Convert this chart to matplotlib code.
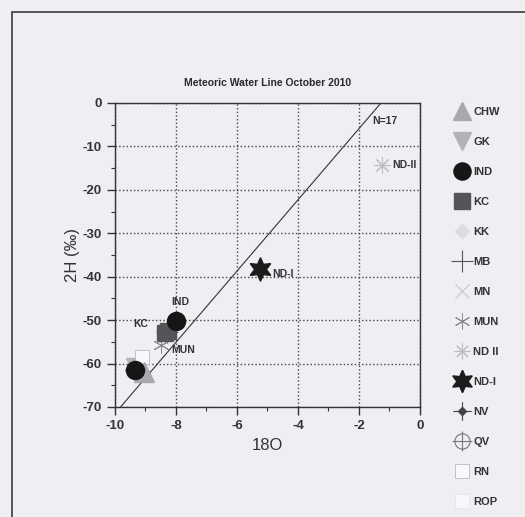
# Meteoric water line, October 2010
import numpy as np
import matplotlib
matplotlib.use('Agg')
import matplotlib.pyplot as plt
from matplotlib.path import Path
from matplotlib.patches import Rectangle

plt.rcParams['font.family'] = ['Liberation Sans', 'DejaVu Sans']
plt.rcParams['axes.unicode_minus'] = False

# Data
sites = ['CHW', 'GK', 'IND', 'KC', 'KK', 'MB', 'MN', 'MUN',
         'ND II', 'ND-I', 'NV', 'QV', 'RN', 'ROP']
d18O = {
    'CHW': [-9.05], 'GK': [-9.3], 'IND': [-8.0, -9.35], 'KC': [-8.25, -8.35],
    'KK': [-8.3], 'MB': [-8.3], 'MN': [-8.3], 'MUN': [-8.5],
    'ND II': [-1.25], 'ND-I': [-5.25], 'NV': [-9.35], 'QV': [-9.35],
    'RN': [-9.1], 'ROP': [-9.35],
}
d2H = {
    'CHW': [-62.0], 'GK': [-61.0], 'IND': [-50.2, -61.5], 'KC': [-52.5, -53.0],
    'KK': [-53.0], 'MB': [-52.8], 'MN': [-52.6], 'MUN': [-55.8],
    'ND II': [-14.3], 'ND-I': [-38.2], 'NV': [-61.5], 'QV': [-61.5],
    'RN': [-58.5], 'ROP': [-61.5],
}
mwl_slope = 8.2
mwl_intercept = 10.5
mwl_x = np.array([-9.82, -1.28])

# text labels next to points
point_labels = [('N=17', -1.55, -4.2), ('ND-II', -0.9, -14.3), ('ND-I', -4.85, -39.3),
                ('IND', -8.15, -45.8), ('KC', -9.4, -50.8), ('MUN', -8.15, -56.9)]

# custom markers
diamond_cross = Path.make_compound_path(
    Path([(0, 1), (1, 0), (0, -1), (-1, 0), (0, 1)], closed=True),
    Path([(-2.2, 0), (2.2, 0)]), Path([(0, -2.2), (0, 2.2)]))
circle_cross = Path.make_compound_path(
    Path.unit_circle(), Path([(-1.3, 0), (1.3, 0)]), Path([(0, -1.3), (0, 1.3)]))

styles = {
    'CHW': dict(marker='^', ms=14, mfc='#a9a8ad', mec='#a9a8ad', zorder=3),
    'GK': dict(marker='v', ms=14, mfc='#b3b2b7', mec='#b3b2b7', zorder=2.5),
    'IND': dict(marker='o', ms=13, mfc='#161616', mec='#161616', zorder=4),
    'KC': dict(marker='s', ms=12, mfc='#555458', mec='#555458', zorder=3.5),
    'KK': dict(marker='D', ms=8, mfc='#dddce2', mec='#dddce2', zorder=2.5),
    'MB': dict(marker='+', ms=16, mec='#555555', mew=0.8, zorder=2.5),
    'MN': dict(marker='x', ms=10, mec='#c8c8cc', mew=0.8, zorder=2.5),
    'MUN': dict(marker=(6, 2, 0), ms=12, mec='#8a8a8e', mew=0.7, zorder=3),
    'ND II': dict(marker=(8, 2, 0), ms=12, mec='#bdbdc2', mew=0.8, zorder=3),
    'ND-I': dict(marker=(6, 1, 0), ms=17, mfc='#1c1c1c', mec='#1c1c1c', zorder=3),
    'NV': dict(marker=diamond_cross, ms=14, mfc='#444448', mec='#444448', mew=0.8, zorder=2.5),
    'QV': dict(marker=circle_cross, ms=15, mfc='none', mec='#77777b', mew=0.8, zorder=2.5),
    'RN': dict(marker='s', ms=10, mfc='#f8f8fa', mec='#bbbbc0', mew=0.6, zorder=2.8),
    'ROP': dict(marker='s', ms=10, mfc='#f8f8fa', mec='#e6e6ea', mew=0.6, zorder=2.2),
}

fig = plt.figure(figsize=(5.25, 5.17), dpi=100, facecolor='#efeef3')
ax = fig.add_axes([0.219, 0.2128, 0.581, 0.588])
ax.set_facecolor('#efeef3')

# outer frame of the scanned figure
fig.add_artist(Rectangle((12 / 525, -0.2), 1.2, 1.2 - 12 / 517,
                         transform=fig.transFigure, fill=False,
                         edgecolor='#3a3a3a', lw=1.2))

ax.plot(mwl_x, mwl_slope * mwl_x + mwl_intercept, color='#333333', lw=0.8, zorder=2)

for s in sites:
    ax.plot(d18O[s], d2H[s], linestyle='none', label=s, **styles[s])

for txt, x, y in point_labels:
    ax.text(x, y, txt, fontsize=7.5, fontweight='bold', color='#333333',
            va='center', ha='left')

ax.set_xlim(-10, 0)
ax.set_ylim(-70, 0)
ax.set_xticks([-10, -8, -6, -4, -2, 0])
ax.set_xticks(np.arange(-9, 0, 2), minor=True)
ax.set_yticks(np.arange(-70, 1, 10))
ax.set_yticks(np.arange(-65, 0, 10), minor=True)
ax.grid(True, which='major', linestyle=':', color='#444444', lw=1.0)
ax.tick_params(which='major', direction='out', length=6, width=1, colors='#333333',
               labelsize=9.5)
ax.tick_params(which='minor', direction='out', length=3, width=0.8, colors='#333333')
for lab in ax.get_xticklabels() + ax.get_yticklabels():
    lab.set_fontweight('bold')
for sp in ax.spines.values():
    sp.set_color('#333333')
    sp.set_linewidth(1.0)

ax.set_title('Meteoric Water Line October 2010', fontsize=7.5, fontweight='bold',
             color='#2a2a2a', pad=12)
ax.set_xlabel('18O', fontsize=12, color='#333333', labelpad=4)
ax.set_ylabel('2H (‰)', fontsize=12, color='#333333', labelpad=2)

leg = ax.legend(loc='upper left', bbox_to_anchor=(455 / 525, 1 - 107 / 517),
                bbox_transform=fig.transFigure, frameon=False, fontsize=8,
                labelspacing=1.8, handlelength=1.2, handletextpad=0.45,
                borderpad=0, borderaxespad=0, markerscale=0.95)
for t in leg.get_texts():
    t.set_fontweight('bold')
    t.set_color('#333333')

fig.savefig('out.png', dpi=100, facecolor=fig.get_facecolor())
